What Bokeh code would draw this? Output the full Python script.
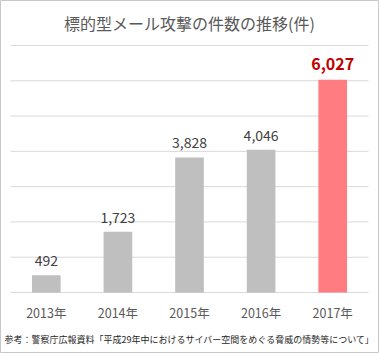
from bokeh.plotting import figure
from bokeh.models import Range1d, ColumnDataSource
from bokeh.core.properties import value
from bokeh.embed import file_html
from bokeh.resources import INLINE
import numpy as np

# ---- data ----
years = ["2013年", "2014年", "2015年", "2016年", "2017年"]
counts = [492, 1723, 3828, 4046, 6027]
count_labels = ["492", "1,723", "3,828", "4,046", "6,027"]
grid_ticks = [0, 1000, 2000, 3000, 4000, 5000, 6000, 7000]
title_text = "標的型メール攻撃の件数の推移(件)"
source_text = "参考：警察庁広報資料「平成29年中におけるサイバー空間をめぐる脅威の情勢等について」"

# ---- layout (pixels) ----
W, H = 379, 353
PL, PR, PT, PB = 10, 368, 45, 292
n = len(years)
px_per_cat = (PR - PL) / n
ymax = grid_ticks[-1]
px_per_unit = (PB - PT) / ymax

x_range = Range1d(start=-PL / px_per_cat, end=n + (W - PR) / px_per_cat)
y_range = Range1d(start=-(H - PB) / px_per_unit, end=ymax + PT / px_per_unit)

FONT = value("Noto Sans CJK JP")

p = figure(width=W, height=H, x_range=x_range, y_range=y_range,
           output_backend="svg", toolbar_location=None,
           x_axis_location=None, y_axis_location=None, min_border=0)
p.xgrid.visible = False
p.ygrid.visible = False
p.outline_line_color = "#c8c8c8"
p.outline_line_width = 1
p.background_fill_color = "white"
p.border_fill_color = "white"

xc = np.arange(n) + 0.5
colors = ["#BFBFBF"] * (n - 1) + ["#FF7C80"]

# gridlines
p.segment(x0=[0] * len(grid_ticks), x1=[n] * len(grid_ticks),
          y0=grid_ticks, y1=grid_ticks, line_color="#D9D9D9", line_width=1)

src = ColumnDataSource(dict(x=xc, top=counts, color=colors, lab=count_labels,
                            year=years, zero=[0] * n))
p.vbar(x="x", top="top", width=0.4, bottom=0, fill_color="color",
       line_color=None, source=src)

# value labels
p.text(x=xc[:-1], y=counts[:-1], text=count_labels[:-1], text_align="center",
       text_baseline="bottom", y_offset=-9, text_font=FONT,
       text_font_size="14px", text_color="#404040")
p.text(x=xc[-1:], y=counts[-1:], text=count_labels[-1:], text_align="center",
       text_baseline="bottom", y_offset=-10, text_font=FONT,
       text_font_size="16px", text_font_style="bold", text_color="#C00000")

# category labels
p.text(x="x", y="zero", text="year", source=src, text_align="center",
       text_baseline="middle", y_offset=20, text_font=FONT,
       text_font_size="12.5px", text_color="#595959")

# title
p.text(x=[n / 2], y=[ymax], text=[title_text], text_align="center",
       text_baseline="middle", y_offset=-23, text_font=FONT,
       text_font_size="16px", text_color="#595959")

# source note
p.text(x=[n / 2], y=[0], text=[source_text], text_align="center",
       text_baseline="middle", y_offset=47, text_font=FONT,
       text_font_size="9px", text_color="#262626")

open("out.html", "w").write(file_html(p, INLINE))
